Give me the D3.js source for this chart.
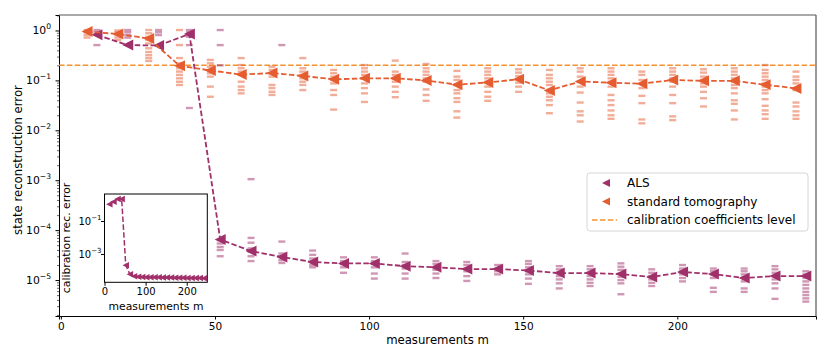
<!DOCTYPE html>
<html>
<head>
<meta charset="utf-8">
<script src="https://cdn.jsdelivr.net/npm/d3@7"></script>
<style>
  body { margin: 0; background: #fff; }
  svg text { font-family: "DejaVu Sans", sans-serif; fill: #000; }
</style>
</head>
<body>
<div id="chart"></div>
<script>
// number of measurements
const mValues = [10, 20, 30, 40, 50, 60, 70, 80, 90, 100, 110, 120, 130, 140, 150, 160, 170, 180, 190, 200, 210, 220, 230, 240];

// mean state reconstruction error
const alsMean = [0.82, 0.51, 0.5, 0.85, 6.5e-5, 3.8e-5, 2.9e-5, 2.3e-5, 2.15e-5, 2.15e-5, 1.9e-5, 1.8e-5, 1.66e-5, 1.66e-5, 1.55e-5, 1.38e-5, 1.38e-5, 1.32e-5, 1.15e-5, 1.45e-5, 1.32e-5, 1.1e-5, 1.2e-5, 1.2e-5];
const stdMean = [0.95, 0.85, 0.69, 0.197, 0.158, 0.131, 0.14, 0.123, 0.105, 0.11, 0.11, 0.1, 0.082, 0.091, 0.105, 0.063, 0.095, 0.09, 0.086, 0.102, 0.098, 0.098, 0.082, 0.069];

// individual runs
const alsRuns = [
  [1.02, 0.92, 0.51],
  [1.02, 0.92, 0.81, 0.72],
  [1.02, 0.92, 0.81, 0.51],
  [1.02, 0.92, 0.81, 0.75, 0.51, 0.028],
  [1.02, 0.51, 0.2, 6.3e-5, 5.4e-5, 4.6e-5, 4.0e-5, 3.0e-5],
  [1.05e-3, 7.0e-5, 5.6e-5, 4.3e-5, 3.7e-5, 3.0e-5, 2.4e-5],
  [0.51, 5.9e-5, 3.4e-5, 2.95e-5, 2.5e-5, 2.2e-5],
  [3.9e-5, 3.2e-5, 2.7e-5, 2.3e-5, 2.0e-5, 1.8e-5],
  [2.85e-5, 2.4e-5, 2.1e-5, 1.8e-5, 1.4e-5],
  [2.85e-5, 2.4e-5, 2.1e-5, 1.8e-5, 1.35e-5, 1.07e-5],
  [3.4e-5, 2.3e-5, 2.0e-5, 1.7e-5, 1.35e-5, 1.07e-5],
  [2.4e-5, 2.1e-5, 1.8e-5, 1.6e-5, 1.35e-5, 1.1e-5],
  [2.3e-5, 2.0e-5, 1.7e-5, 1.5e-5, 1.2e-5, 9.6e-6],
  [2.0e-5, 1.7e-5, 1.5e-5, 1.3e-5],
  [2.4e-5, 2.1e-5, 1.8e-5, 1.5e-5, 1.3e-5, 1.07e-5, 8.4e-6],
  [1.9e-5, 1.64e-5, 1.4e-5, 1.2e-5, 1.03e-5, 8.6e-6, 6.8e-6],
  [1.9e-5, 1.64e-5, 1.4e-5, 1.2e-5, 1.03e-5, 8.8e-6, 7.6e-6],
  [2.16e-5, 1.85e-5, 1.6e-5, 1.36e-5, 1.16e-5, 1.0e-5, 8.6e-6, 5.2e-6],
  [1.64e-5, 1.4e-5, 1.2e-5, 1.03e-5, 8.8e-6, 7.6e-6],
  [2.0e-5, 1.7e-5, 1.5e-5, 1.3e-5, 1.1e-5, 9.4e-6],
  [1.7e-5, 1.5e-5, 1.3e-5, 1.1e-5, 7.0e-6, 5.8e-6],
  [1.7e-5, 1.5e-5, 1.3e-5, 1.1e-5, 9.4e-6, 6.8e-6, 5.8e-6],
  [1.9e-5, 1.64e-5, 1.4e-5, 1.2e-5, 1.03e-5, 8.6e-6, 6.8e-6, 4.2e-6],
  [1.5e-5, 1.3e-5, 1.1e-5, 9.4e-6, 8.0e-6, 6.8e-6, 5.8e-6, 5.0e-6, 4.3e-6, 3.7e-6]
];
const stdRuns = [
  [1.02, 0.92, 0.81, 0.72],
  [1.0, 0.92, 0.81, 0.72, 0.64],
  [1.02, 0.88, 0.75, 0.645, 0.55, 0.44, 0.37, 0.32, 0.28, 0.245],
  [1.02, 0.51, 0.28, 0.22, 0.175, 0.15, 0.129, 0.11, 0.094, 0.081],
  [0.257, 0.22, 0.188, 0.162, 0.139, 0.119, 0.075, 0.047],
  [0.28, 0.203, 0.175, 0.15, 0.129, 0.094, 0.075, 0.064, 0.055],
  [0.188, 0.162, 0.139, 0.119, 0.081, 0.07, 0.059, 0.051],
  [0.28, 0.175, 0.15, 0.129, 0.11, 0.094, 0.081, 0.064],
  [0.162, 0.139, 0.119, 0.102, 0.087, 0.064, 0.051, 0.026],
  [0.203, 0.175, 0.15, 0.129, 0.11, 0.087, 0.07, 0.055, 0.037],
  [0.249, 0.15, 0.129, 0.11, 0.094, 0.075, 0.059, 0.046],
  [0.213, 0.175, 0.15, 0.129, 0.11, 0.094, 0.066, 0.051, 0.039],
  [0.155, 0.119, 0.102, 0.081, 0.064, 0.055, 0.044, 0.037, 0.024, 0.018],
  [0.175, 0.15, 0.129, 0.11, 0.094, 0.075, 0.059, 0.047, 0.039],
  [0.167, 0.143, 0.122, 0.105, 0.09, 0.075, 0.059],
  [0.162, 0.129, 0.11, 0.094, 0.081, 0.064, 0.055, 0.047, 0.04, 0.032, 0.022],
  [0.175, 0.15, 0.119, 0.094, 0.075, 0.057, 0.036, 0.024, 0.02, 0.015],
  [0.175, 0.15, 0.129, 0.11, 0.094, 0.075, 0.051, 0.04, 0.032, 0.025, 0.02, 0.017],
  [0.15, 0.129, 0.102, 0.087, 0.07, 0.049, 0.035, 0.0165, 0.0138],
  [0.175, 0.15, 0.129, 0.11, 0.094, 0.075, 0.051, 0.035, 0.019, 0.016],
  [0.167, 0.143, 0.119, 0.102, 0.087, 0.075, 0.059, 0.044, 0.03],
  [0.175, 0.15, 0.129, 0.11, 0.094, 0.081, 0.07, 0.055, 0.04, 0.034, 0.025, 0.0165],
  [0.203, 0.162, 0.139, 0.119, 0.102, 0.087, 0.075, 0.064, 0.055, 0.042, 0.031, 0.025, 0.021, 0.017],
  [0.15, 0.119, 0.102, 0.087, 0.07, 0.064, 0.036, 0.03, 0.024, 0.02, 0.017]
];

const calibLevel = 0.2;

// inset: calibration reconstruction error of ALS
const calibMean = [1.03, 1.5, 2.2, 2.2, 2.1e-4, 5.9e-5, 4.4e-5, 4.1e-5, 4.0e-5, 3.9e-5, 3.9e-5, 3.8e-5, 3.8e-5, 3.7e-5, 3.7e-5, 3.7e-5, 3.6e-5, 3.6e-5, 3.6e-5, 3.5e-5, 3.5e-5, 3.5e-5, 3.5e-5, 3.4e-5];

const xTicks = [0, 50, 100, 150, 200];
const yTickExp = [0, -1, -2, -3, -4, -5];
const insetXTicks = [0, 100, 200];
const insetYTickExp = [-1, -3];

const legendLabels = ["ALS", "standard tomography", "calibration coefficients level"];

const colALS = "#a0306a";
const colStd = "#e55c31";
const colCal = "#f5922f";

const svg = d3.select("#chart").append("svg")
    .attr("width", 830)
    .attr("height", 359);

// main axes
const x = d3.scaleLinear().domain([-0.6, 245]).range([59, 816]);
const y = d3.scaleLog().domain([Math.pow(10, -5.72), Math.pow(10, 0.31)]).range([316, 15]);

const alsOff = 1.7, stdOff = -1.5;

// minor + major y ticks
const minorVals = [];
for (let e = -6; e <= 0; e++) {
    for (let k = 2; k <= 9; k++) {
        const v = k * Math.pow(10, e);
        if (v >= y.domain()[0] && v <= y.domain()[1]) minorVals.push(v);
    }
}
svg.append("g")
    .attr("transform", "translate(59,0)")
    .call(d3.axisLeft(y).tickValues(minorVals).tickSize(2).tickFormat(""))
    .call(g => g.select(".domain").remove())
    .call(g => g.selectAll("line").attr("stroke-width", 0.6));

const yAxis = svg.append("g")
    .attr("transform", "translate(59,0)")
    .call(d3.axisLeft(y).tickValues(yTickExp.map(e => Math.pow(10, e))).tickSize(3.5).tickFormat(""));
yAxis.select(".domain").attr("stroke-width", 1);

yTickExp.forEach(e => {
    const t = svg.append("text")
        .attr("x", 51)
        .attr("y", y(Math.pow(10, e)) + 4)
        .attr("text-anchor", "end")
        .style("font-size", "10.8px");
    t.append("tspan").text("10");
    t.append("tspan").attr("dy", -5).style("font-size", "7.6px").text(e === 0 ? "0" : "\u2212" + (-e));
});

const xAxis = svg.append("g")
    .attr("transform", "translate(0,316)")
    .call(d3.axisBottom(x).tickValues(xTicks).tickSize(3.5).tickPadding(3));
xAxis.selectAll("text").style("font-size", "10.5px");

// top / right spines
svg.append("line").attr("x1", 59).attr("x2", 816).attr("y1", 15).attr("y2", 15).attr("stroke", "#555").attr("stroke-width", 1.2);
svg.append("line").attr("x1", 816).attr("x2", 816).attr("y1", 15).attr("y2", 316).attr("stroke", "#555").attr("stroke-width", 1.2);

// labels
svg.append("text")
    .attr("x", 437.5).attr("y", 344)
    .attr("text-anchor", "middle")
    .style("font-size", "11.7px")
    .text("measurements m");
svg.append("text")
    .attr("transform", "translate(22,160) rotate(-90)")
    .attr("text-anchor", "middle")
    .style("font-size", "11.7px")
    .text("state reconstruction error");

const plot = svg.append("g");

// calibration level
plot.append("line")
    .attr("x1", 59).attr("x2", 816)
    .attr("y1", y(calibLevel)).attr("y2", y(calibLevel))
    .attr("stroke", colCal).attr("stroke-width", 1.5)
    .attr("stroke-dasharray", "5.5,2.4");

// strips of single runs
function drawRuns(runs, off, col) {
    runs.forEach((vals, i) => {
        plot.selectAll(null)
            .data(vals)
            .enter().append("line")
            .attr("x1", x(mValues[i] + off) - 3.5)
            .attr("x2", x(mValues[i] + off) + 3.5)
            .attr("y1", d => y(d))
            .attr("y2", d => y(d))
            .attr("stroke", col)
            .attr("stroke-width", 2.4)
            .attr("stroke-opacity", 0.5);
    });
}
drawRuns(stdRuns, stdOff, colStd);
drawRuns(alsRuns, alsOff, colALS);

function tri(s) {
    return `M${-s / 2},0L${s / 2},${-s / 2}L${s / 2},${s / 2}Z`;
}

function drawMean(vals, off, col, xs, ys, s, lw, target) {
    const line = d3.line().x((d, i) => xs(mValues[i] + off)).y(d => ys(d));
    target.append("path")
        .datum(vals)
        .attr("d", line)
        .attr("fill", "none")
        .attr("stroke", col)
        .attr("stroke-width", lw)
        .attr("stroke-dasharray", "5.5,2.4");
    target.selectAll(null)
        .data(vals)
        .enter().append("path")
        .attr("d", tri(s))
        .attr("transform", (d, i) => `translate(${xs(mValues[i] + off)},${ys(d)})`)
        .attr("fill", col);
}
drawMean(alsMean, alsOff, colALS, x, y, 11, 1.8, plot);
drawMean(stdMean, stdOff, colStd, x, y, 11, 1.8, plot);

// legend
const lg = svg.append("g");
lg.append("rect")
    .attr("x", 587).attr("y", 173)
    .attr("width", 221).attr("height", 58)
    .attr("rx", 3)
    .attr("fill", "#fff").attr("fill-opacity", 0.8)
    .attr("stroke", "#d6d6d6");
const lgY = [183, 201.5, 220];
lg.append("path").attr("d", tri(8)).attr("transform", `translate(606,${lgY[0]})`).attr("fill", colALS);
lg.append("path").attr("d", tri(8)).attr("transform", `translate(606,${lgY[1]})`).attr("fill", colStd);
lg.append("line")
    .attr("x1", 592).attr("x2", 617)
    .attr("y1", lgY[2]).attr("y2", lgY[2])
    .attr("stroke", colCal).attr("stroke-width", 1.5)
    .attr("stroke-dasharray", "5.5,2.4");
legendLabels.forEach((t, i) => {
    lg.append("text")
        .attr("x", 627).attr("y", lgY[i] + 4.3)
        .style("font-size", "12px")
        .text(t);
});

// inset
const xi = d3.scaleLinear().domain([0, 250]).range([104.5, 207.3]);
const yi = d3.scaleLog().domain([Math.pow(10, -4.72), Math.pow(10, 0.64)]).range([282.3, 194]);

const inset = svg.append("g");
inset.append("rect")
    .attr("x", 104.5).attr("y", 194)
    .attr("width", 102.8).attr("height", 88.3)
    .attr("fill", "#fff")
    .attr("stroke", "#000").attr("stroke-width", 1);

const ixAxis = inset.append("g")
    .attr("transform", "translate(0,282.3)")
    .call(d3.axisBottom(xi).tickValues(insetXTicks).tickSize(3.5).tickPadding(2));
ixAxis.select(".domain").remove();
ixAxis.selectAll("text").style("font-size", "10px");

const iyAxis = inset.append("g")
    .attr("transform", "translate(104.5,0)")
    .call(d3.axisLeft(yi).tickValues(insetYTickExp.map(e => Math.pow(10, e))).tickSize(3.5).tickFormat(""));
iyAxis.select(".domain").remove();

insetYTickExp.forEach(e => {
    const t = inset.append("text")
        .attr("x", 101.5)
        .attr("y", yi(Math.pow(10, e)) + 3.8)
        .attr("text-anchor", "end")
        .style("font-size", "10px");
    t.append("tspan").text("10");
    t.append("tspan").attr("dy", -4.8).style("font-size", "7px").text("\u2212" + (-e));
});

inset.append("text")
    .attr("x", 156).attr("y", 309.5)
    .attr("text-anchor", "middle")
    .style("font-size", "10.8px")
    .text("measurements m");
inset.append("text")
    .attr("transform", "translate(70,238) rotate(-90)")
    .attr("text-anchor", "middle")
    .style("font-size", "10.8px")
    .text("calibration rec. error");

const insetPlot = inset.append("g");
drawMean(calibMean, alsOff, colALS, xi, yi, 6.5, 1.5, insetPlot);
</script>
</body>
</html>
